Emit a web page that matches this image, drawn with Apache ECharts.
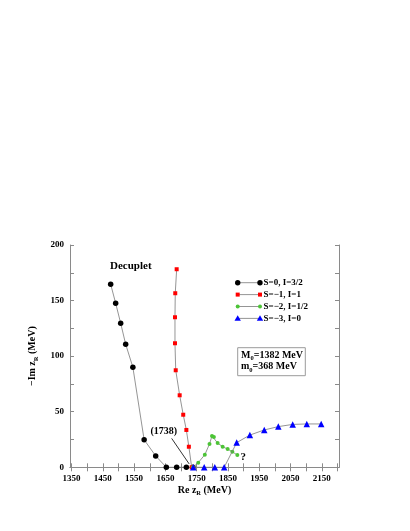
<!DOCTYPE html>
<html>
<head>
<meta charset="utf-8">
<script src="https://cdn.jsdelivr.net/npm/echarts@6/dist/echarts.min.js"></script>
<style>html,body{margin:0;padding:0;background:#fff}#c{width:410px;height:531px}</style>
</head>
<body>
<div id="c"></div>
<script>
// ---- data ----
const seriesNames = ['S=0, I=3/2', 'S=\u22121, I=1', 'S=\u22122, I=1/2', 'S=\u22123, I=0'];
const seriesColors = ['#000000', '#ff0000', '#4cc436', '#0000ff'];

const blackX = [1475, 1491, 1507, 1523, 1546, 1582, 1619, 1653, 1686, 1717, 1738];
const blackY = [164.7, 147.6, 129.6, 110.7, 90, 24.8, 10.2, 0, 0, 0, 0];

const redX = [1686, 1681.5, 1680.6, 1680.6, 1683, 1695.6, 1707, 1717, 1725, 1734];
const redY = [178.2, 156.6, 135, 111.6, 87.3, 64.8, 47.3, 33.6, 18.5, 0];

const greenX = [1738, 1755, 1776, 1791, 1799, 1805, 1817, 1833, 1849, 1864, 1880];
const greenY = [0, 4.2, 11.3, 21, 28.2, 27.3, 21.8, 18.5, 16.4, 14, 11];

const blueX = [1739, 1774, 1808, 1838, 1878, 1920, 1966, 2011, 2057, 2102, 2148];
const blueY = [0, 0, 0, 0, 22.2, 29, 33.6, 36.6, 38.6, 39, 39];

const xLabelValues = [1350, 1450, 1550, 1650, 1750, 1850, 1950, 2050, 2150];
const xTickValues = [1350, 1400, 1450, 1500, 1550, 1600, 1650, 1700, 1750, 1800, 1850, 1900, 1950, 2000, 2050, 2100, 2150, 2200];
const yLabelValues = [0, 50, 100, 150, 200];
const yTickValues = [0, 25, 50, 75, 100, 125, 150, 175, 200];

const arrowFrom = [1670, 26];
const arrowTo = [1726, 3];
const noteLabelPos = [1645, 32];
const questionPos = [1899, 9];

// ---- chart ----
const zip = (xs, ys) => xs.map((x, i) => [x, ys[i]]);
const FONT = '"Liberation Serif", "DejaVu Serif", serif';
const axisGray = '#8a8a8a';
const lineGray = '#7a7a7a';

const chart = echarts.init(document.getElementById('c'), null, {renderer: 'canvas'});

function lineSeries(idx, xs, ys, symbol, size, extra) {
  return Object.assign({
    name: seriesNames[idx],
    type: 'line',
    data: zip(xs, ys),
    symbol: symbol,
    symbolSize: size,
    showSymbol: true,
    clip: false,
    lineStyle: {color: lineGray, width: 0.8},
    itemStyle: {color: seriesColors[idx], borderWidth: 0},
    emphasis: {disabled: true},
    animation: false,
    z: 2 + idx
  }, extra || {});
}

const xAxisBase = {
  type: 'value', min: 1345, max: 2205,
  axisLine: {show: true, lineStyle: {color: axisGray, width: 1}},
  axisTick: {show: true, inside: true, length: 4, customValues: xTickValues, lineStyle: {color: axisGray}},
  splitLine: {show: false}
};
const yAxisBase = {
  type: 'value', min: 0, max: 200,
  axisLine: {show: true, lineStyle: {color: axisGray, width: 1}},
  axisTick: {show: true, inside: true, length: 4, customValues: yTickValues, lineStyle: {color: axisGray}},
  splitLine: {show: false}
};

const subRich = {
  a: {fontFamily: FONT, fontWeight: 'bold', fontSize: 10, color: '#000', lineHeight: 12},
  s: {fontFamily: FONT, fontWeight: 'bold', fontSize: 6.5, color: '#000', verticalAlign: 'bottom', lineHeight: 12, padding: [0, 0, -1, 0]}
};

// legend drawn as graphic (marker - line - marker, text)
const legendTop = 282.7, legendStep = 11.9, lx1 = 237.7, lx2 = 260, ltx = 263.5;
const legendGraphics = [];
seriesNames.forEach((name, i) => {
  const y = legendTop + i * legendStep;
  legendGraphics.push({type: 'line', shape: {x1: lx1, y1: y, x2: lx2, y2: y}, style: {stroke: lineGray, lineWidth: 0.8}, silent: true});
  [lx1, lx2].forEach(x => {
    let el;
    if (i === 0) el = {type: 'circle', shape: {cx: x, cy: y, r: 2.7}};
    else if (i === 1) el = {type: 'rect', shape: {x: x - 2, y: y - 2, width: 4, height: 4}};
    else if (i === 2) el = {type: 'circle', shape: {cx: x, cy: y, r: 2}};
    else el = {type: 'polygon', shape: {points: [[x, y - 3.2], [x - 3.2, y + 2.4], [x + 3.2, y + 2.4]]}};
    el.style = {fill: seriesColors[i]};
    el.silent = true;
    legendGraphics.push(el);
  });
  legendGraphics.push({type: 'text', x: ltx, y: y, style: {text: name, font: 'bold 9px ' + FONT, fill: '#000', verticalAlign: 'middle', align: 'left'}, silent: true});
});

const boxRich = {
  a: {font: 'bold 10px ' + FONT, fill: '#000', lineHeight: 12},
  s: {font: 'bold 6.5px ' + FONT, fill: '#000', verticalAlign: 'bottom', lineHeight: 12, padding: [0, 0, -1, 0]}
};

const option = {
  backgroundColor: '#fff',
  animation: false,
  textStyle: {fontFamily: FONT},
  grid: {left: 70, top: 245, width: 269, height: 222.3, containLabel: false},
  xAxis: [
    Object.assign({}, xAxisBase, {
      position: 'bottom',
      name: '{a|Re z}{s|R}{a| (MeV)}',
      nameLocation: 'middle', nameGap: 17,
      nameTextStyle: {rich: subRich},
      axisLabel: {show: true, customValues: xLabelValues, formatter: v => String(v), margin: 7, color: '#000', fontFamily: FONT, fontWeight: 'bold', fontSize: 9}
    }),
    Object.assign({}, xAxisBase, {position: 'top', axisLabel: {show: false}})
  ],
  yAxis: [
    Object.assign({}, yAxisBase, {
      position: 'left',
      name: '{a|\u2212Im z}{s|R}{a| (MeV)}',
      nameLocation: 'middle', nameGap: 28,
      nameTextStyle: {rich: subRich},
      axisLabel: {show: true, customValues: yLabelValues, formatter: v => String(v), margin: 6, color: '#000', fontFamily: FONT, fontWeight: 'bold', fontSize: 9}
    }),
    Object.assign({}, yAxisBase, {position: 'right', axisLabel: {show: false}})
  ],
  title: {
    text: 'Decuplet', left: 105, top: 256,
    textStyle: {fontFamily: FONT, fontWeight: 'bold', fontSize: 11, color: '#000'}
  },
  series: [
    lineSeries(0, blackX, blackY, 'circle', 5.5, {
      markLine: {
        silent: true, animation: false,
        symbol: ['none', 'arrow'], symbolSize: [0, 6],
        lineStyle: {color: '#000', width: 0.8, type: 'solid'},
        label: {show: false},
        data: [[{coord: arrowFrom}, {coord: arrowTo}]]
      },
      markPoint: {
        silent: true, animation: false,
        symbol: 'circle', symbolSize: 0,
        data: [
          {coord: noteLabelPos, label: {show: true, formatter: '(1738)', position: 'inside', color: '#000', fontFamily: FONT, fontWeight: 'bold', fontSize: 10}},
          {coord: questionPos, label: {show: true, formatter: '?', position: 'inside', color: '#000', fontFamily: FONT, fontWeight: 'bold', fontSize: 11}}
        ]
      }
    }),
    lineSeries(1, redX, redY, 'rect', 4),
    lineSeries(2, greenX, greenY, 'circle', 4),
    lineSeries(3, blueX, blueY, 'triangle', 6.5)
  ],
  graphic: legendGraphics.concat([
    {type: 'rect', shape: {x: 237.7, y: 347.7, width: 67.6, height: 28}, style: {fill: 'none', stroke: '#9a9a9a', lineWidth: 1}, silent: true},
    {type: 'text', x: 241, y: 355, silent: true,
      style: {text: '{a|M}{s|0}{a|=1382 MeV}', verticalAlign: 'middle', rich: boxRich}},
    {type: 'text', x: 241, y: 366.5, silent: true,
      style: {text: '{a|m}{s|0}{a|=368 MeV}', verticalAlign: 'middle', rich: boxRich}}
  ])
};
chart.setOption(option);
</script>
</body>
</html>
